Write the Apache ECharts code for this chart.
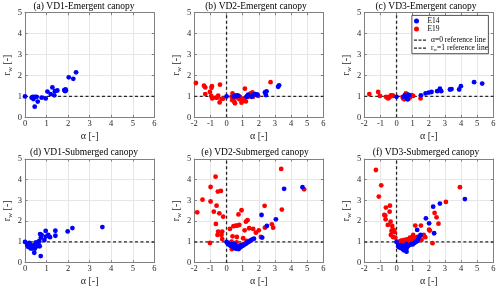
<!DOCTYPE html>
<html><head><meta charset="utf-8">
<script src="https://cdn.jsdelivr.net/npm/echarts@6/dist/echarts.min.js"></script>
<style>html,body{margin:0;padding:0;background:#fff}#c{width:500px;height:289px}</style>
</head><body><div id="c"></div>
<script>
// ---- data (alpha [-], r_w [-]) ----
const panelTitles = ['(a) VD1-Emergent canopy','(b) VD2-Emergent canopy','(c) VD3-Emergent canopy',
  '(d) VD1-Submerged canopy','(e) VD2-Submerged canopy','(f) VD3-Submerged canopy'];
const xTicksMin = [0,-2,-2,0,-2,-2];
const xTicksMax = [6,6,6,6,6,6];
const yTicksMin = 0, yTicksMax = 5;

const aE14 = [[0,1.0],[0.31,0.94],[0.36,0.98],[0.39,0.87],[0.46,0.98],[0.54,0.98],[0.45,0.51],[0.59,0.75],[0.77,0.94],[0.96,0.90],[1.04,1.23],[1.19,1.11],[1.27,1.43],[1.36,1.05],[1.39,1.25],[1.5,1.28],[1.82,1.3],[1.86,1.25],[1.88,1.33],[1.9,1.28],[2.03,1.91],[2.24,1.84],[2.37,2.15]];
const aE19 = [];

const bE14 = [[0,1.0],[0.45,1.0],[0.52,1.04],[0.58,1.01],[0.66,1.05],[0.74,1.02],[1.24,0.98],[1.28,1.02],[1.34,1.08],[1.55,0.98],[1.65,1.08],[1.78,1.11],[1.86,1.08],[1.92,1.08],[2.38,1.19],[2.48,1.24],[2.44,1.06],[3.2,1.46],[3.26,1.53]];
const bE19 = [[-1.90,1.64],[-1.40,1.51],[-1.32,1.43],[-1.32,1.11],[-0.91,1.49],[-0.93,1.41],[-1.03,1.21],[-0.95,1.02],[-0.89,0.90],[-0.66,0.94],[-0.58,0.94],[-0.52,1.03],[-0.41,1.56],[-0.43,0.71],[-0.31,0.87],[-0.21,0.89],
  [0.31,0.98],[0.37,1.14],[0.35,0.82],[0.41,0.90],[0.48,0.75],[0.52,0.67],[0.62,0.95],[0.72,1.02],[0.79,0.86],[0.83,0.98],[0.93,0.70],[0.99,0.79],[1.07,0.90],[1.14,1.37],[1.20,0.76],[1.34,0.98],[1.49,1.14],[1.61,1.19],[1.65,0.98],[1.71,1.08],[1.86,1.06],[1.96,1.02],[2.73,1.68]];

const cE14 = [[0,0.98],[0.45,0.98],[0.52,1.06],[0.62,0.95],[0.78,1.05],[0.68,0.86],[0.72,1.08],[1.51,1.05],[1.80,1.14],[2.0,1.18],[2.17,1.21],[2.52,1.25],[2.69,1.37],[2.77,1.25],[3.31,1.33],[3.41,1.35],[3.88,1.33],[3.99,1.49],[4.81,1.68],[5.31,1.61]];
const cE19 = [[-1.69,1.11],[-1.14,1.21],[-1.03,1.02],[-0.66,0.98],[-0.58,0.94],[-0.52,0.90],[-0.46,0.95],[-0.41,0.98],[-0.37,1.03],[-0.31,1.05],[-0.25,1.03],[-0.21,1.02],[0.37,0.98],[0.41,0.90],[0.48,0.86],[0.52,0.95],[0.58,1.14],[0.62,0.90],[0.68,1.02],[0.74,0.87],[0.83,0.95],[0.93,1.06],[1.03,1.02],[1.49,0.90]];

const dE14 = [[0,1.0],[0.1,0.85],[0.14,0.77],[0.19,0.85],[0.2,0.95],[0.23,0.9],[0.26,0.69],[0.31,0.8],[0.34,0.69],[0.39,0.84],[0.43,0.48],[0.46,0.68],[0.51,0.98],[0.54,0.88],[0.59,0.8],[0.65,0.85],[0.68,0.79],[0.73,0.32],[0.7,1.38],[0.77,1.34],[0.74,1.21],[0.66,1.05],[0.9,1.09],[0.96,1.53],[0.97,1.26],[1.08,1.34],[1.16,1.23],[1.41,1.54],[1.41,1.3],[1.98,1.51],[2.2,1.67],[3.59,1.72]];
const dE19 = [];

const eE14 = [[0,1.0],[0.05,0.95],[0.1,0.9],[0.15,0.88],[0.2,0.85],[0.25,0.82],[0.3,0.8],[0.35,0.78],[0.4,0.76],[0.45,0.74],[0.5,0.72],[0.55,0.7],[0.6,0.68],[0.65,0.67],[0.7,0.7],[0.75,0.66],[0.8,0.72],[0.85,0.75],[0.9,0.78],[0.95,0.8],[1.0,0.82],[1.05,0.85],[1.1,0.88],[1.15,0.9],[1.2,0.92],[1.25,0.95],[1.3,0.98],[1.4,1.02],[1.5,1.08],[1.6,1.12],[1.7,1.16],[0.45,0.85],[0.6,0.8],[0.75,0.78],[0.9,0.85],[0.5,0.9],[0.3,0.9],
  [2.21,1.21],[2.17,2.30],[2.50,1.77],[3.06,2.09],[3.57,3.56],[4.71,3.64]];
const eE19 = [[-1.82,2.43],[-1.49,3.04],[-1.03,0.95],[-0.99,3.65],[-0.99,2.95],[-0.79,2.46],[-0.68,4.15],[-0.66,1.87],[-0.62,2.75],[-0.54,3.43],[-0.35,3.46],[-0.45,2.38],[-0.52,1.50],[-0.56,1.34],[-0.31,1.34],[-0.27,1.50],[-0.21,2.22],[-0.27,1.14],
  [0.21,1.63],[0.37,1.27],[0.43,1.76],[0.58,1.79],[0.68,1.79],[0.79,1.82],[0.74,2.33],[0.93,2.53],[0.64,1.24],[1.03,1.18],[1.20,1.98],[1.30,2.05],[1.12,1.56],[1.40,1.66],[1.65,1.63],[1.82,1.45],[2.00,1.56],[2.13,1.24],[2.36,2.74],[2.38,1.69],[2.81,1.85],[2.89,1.69],[3.39,4.52],[3.43,2.56],[4.81,3.54],
  [0.21,0.95],[0.33,0.65],[0.62,0.98],[0.83,0.82],[0.52,0.86],[1.03,0.88],[1.24,1.05],[1.45,1.05],[0.31,1.02]];

const fE14 = [[0,1.0],[0.1,0.8],[0.15,0.75],[0.2,0.85],[0.25,0.72],[0.3,0.7],[0.35,0.78],[0.4,0.65],[0.45,0.6],[0.5,0.7],[0.55,0.62],[0.6,0.66],[0.65,0.75],[0.7,0.8],[0.8,0.85],[0.9,0.9],[1.0,0.88],[1.1,0.95],[1.2,1.0],[1.3,1.05],[0.3,0.85],[0.5,0.8],[0.6,0.9],[0.62,0.53],
  [1.34,1.14],[1.28,1.58],[1.49,1.34],[1.4,1.25],[1.82,2.14],[2.02,1.90],[2.27,2.70],[2.33,1.42],[2.69,2.85],[4.24,3.07]];
const fE19 = [[-1.28,4.47],[-0.95,3.73],[-1.10,3.19],[-0.66,2.66],[-0.41,2.75],[-0.76,2.30],[-0.70,2.27],[-0.68,2.09],[-0.43,2.46],[-0.54,1.82],[-0.37,1.98],[-0.27,1.77],[-0.25,1.58],[-0.17,1.58],[-0.31,1.53],[-0.12,1.47],[-0.35,1.34],[-0.21,1.23],[-0.08,1.21],
  [0.1,1.0],[0.2,0.95],[0.25,1.05],[0.3,1.0],[0.35,1.08],[0.4,0.98],[0.45,1.05],[0.5,1.1],[0.55,0.95],[0.6,1.0],[0.65,1.12],[0.7,1.05],[0.75,0.98],[0.8,1.15],[0.85,1.08],[0.83,1.21],[0.9,1.2],[0.95,1.1],[1.0,1.25],[1.03,1.34],[1.05,1.15],[1.1,1.05],[1.2,1.2],[1.3,1.25],[1.4,1.15],[1.5,1.3],[1.55,1.1],
  [1.16,1.79],[1.51,1.79],[1.69,1.34],[1.78,1.23],[2.02,1.59],[2.06,1.55],[2.36,2.40],[2.48,2.19],[2.60,1.88],[3.06,2.93],[2.23,0.94],[3.93,3.64]];

const E14 = [aE14,bE14,cE14,dE14,eE14,fE14];
const E19 = [aE19,bE19,cE19,dE19,eE19,fE19];
const showAlphaLine = [false,true,true,false,true,true];

// ---- layout ----
const FONT = "'Liberation Serif','Times New Roman',serif";
const gridPos = [
  {left:25, top:12.7, width:129.3, height:104.6},
  {left:194.3, top:12.7, width:129, height:104.6},
  {left:364.3, top:12.7, width:129, height:104.6},
  {left:25, top:159, width:129.3, height:103.7},
  {left:194.3, top:159, width:129, height:103.7},
  {left:364.3, top:159, width:129, height:103.7}
];
const titleCx = [84,256,426,84,255,426];
const titleTop = [1,1,1,147.5,147.5,147.5];

const AX = '#808080';
const TXT = '#262626';
const grid=[], xAxis=[], yAxis=[], series=[], title=[];
const RW_NAME = 'r_w=1 reference line';
const A_NAME = 'α=0 reference line';

for (let i=0;i<6;i++){
  grid.push(Object.assign({containLabel:false}, gridPos[i]));
  title.push({text:panelTitles[i], left:titleCx[i], top:titleTop[i], textAlign:'center', padding:0,
    textStyle:{fontFamily:FONT, fontSize:9.5, fontWeight:'normal', color:'#000'}});
  xAxis.push({type:'value', gridIndex:i, min:xTicksMin[i], max:xTicksMax[i], interval:1,
    name:'α [-]', nameLocation:'middle', nameGap:14,
    nameTextStyle:{fontFamily:FONT, fontSize:10, color:TXT},
    axisLine:{show:true, onZero:false, lineStyle:{color:AX, width:1}},
    axisTick:{show:true, inside:true, length:2.5, lineStyle:{color:AX}},
    axisLabel:{fontFamily:FONT, fontSize:8.5, color:TXT, margin:2},
    splitLine:{show:true, lineStyle:{color:'#e6e6e6', width:1}}});
  xAxis.push({type:'value', gridIndex:i, position:'top', min:xTicksMin[i], max:xTicksMax[i], interval:1,
    axisLine:{show:true, onZero:false, lineStyle:{color:AX, width:1}},
    axisTick:{show:true, inside:true, length:2.5, lineStyle:{color:AX}},
    axisLabel:{show:false}, splitLine:{show:false}});
  yAxis.push({type:'value', gridIndex:i, min:yTicksMin, max:yTicksMax, interval:1,
    name:'{i|r}{s|w}{i| [-]}', nameLocation:'middle', nameGap:11,
    nameTextStyle:{fontFamily:FONT, color:TXT, rich:{
      i:{fontFamily:FONT, fontSize:10, color:TXT, lineHeight:13},
      s:{fontFamily:FONT, fontSize:7, color:TXT, lineHeight:7, verticalAlign:'bottom'}}},
    axisLine:{show:true, onZero:false, lineStyle:{color:AX, width:1}},
    axisTick:{show:true, inside:true, length:2.5, lineStyle:{color:AX}},
    axisLabel:{fontFamily:FONT, fontSize:8.5, color:TXT, margin:3},
    splitLine:{show:true, lineStyle:{color:'#e6e6e6', width:1}}});
  yAxis.push({type:'value', gridIndex:i, position:'right', min:yTicksMin, max:yTicksMax, interval:1,
    axisLine:{show:true, onZero:false, lineStyle:{color:AX, width:1}},
    axisTick:{show:true, inside:true, length:2.5, lineStyle:{color:AX}},
    axisLabel:{show:false}, splitLine:{show:false}});

  const xi = 2*i, yi = 2*i;
  series.push({type:'line', name:RW_NAME, xAxisIndex:xi, yAxisIndex:yi, symbol:'none', silent:true, z:2,
    data:[[xTicksMin[i],1],[xTicksMax[i],1]], lineStyle:{color:'#262626', width:1.3, type:[3,2.5]}, itemStyle:{color:'#262626'}});
  if (showAlphaLine[i]) {
    series.push({type:'line', name:A_NAME, xAxisIndex:xi, yAxisIndex:yi, symbol:'none', silent:true, z:2,
      data:[[0,yTicksMin],[0,yTicksMax]], lineStyle:{color:'#262626', width:1.3, type:[3,2.5]}, itemStyle:{color:'#262626'}});
  }
  if (E19[i].length) series.push({type:'scatter', name:'E19', xAxisIndex:xi, yAxisIndex:yi, z:3,
    symbol:'circle', symbolSize:4.8, data:E19[i], itemStyle:{color:'#ff0000', opacity:1}});
  series.push({type:'scatter', name:'E14', xAxisIndex:xi, yAxisIndex:yi, z:4,
    symbol:'circle', symbolSize:4.8, data:E14[i], itemStyle:{color:'#0000ff', opacity:1}});
}

const legendText = {fontFamily:FONT, fontSize:7.5, color:'#000', lineHeight:7.6,
  rich:{i:{fontFamily:FONT, fontSize:7.5, color:'#000', lineHeight:7.6},
        s:{fontFamily:FONT, fontSize:5, color:'#000', lineHeight:5, verticalAlign:'bottom'}}};
const DASH_ICON = 'path://M0 0H3V1.2H0Z M4.5 0H7.5V1.2H4.5Z M9 0H12V1.2H9Z';

const chart = echarts.init(document.getElementById('c'), null, {renderer:'canvas'});
chart.setOption({
  animation:false,
  backgroundColor:'#fff',
  title:title, grid:grid, xAxis:xAxis, yAxis:yAxis, series:series,
  graphic:[{type:'rect', left:411.5, top:15, z:100,
    shape:{width:76.5, height:38.3}, style:{fill:'#fff', stroke:'#262626', lineWidth:0.8}}],
  legend:[{
    data:[{name:'E14', icon:'circle'},{name:'E19', icon:'circle'}], orient:'vertical', left:414, top:16.9, z:200,
    padding:0, itemWidth:12, itemHeight:5, itemGap:0, selectedMode:false,
    textStyle:legendText
  },{
    data:[{name:A_NAME, icon:DASH_ICON},{name:RW_NAME, icon:DASH_ICON}], orient:'vertical', left:414, top:36.2, z:200,
    padding:0, itemWidth:12, itemHeight:5, itemGap:0, selectedMode:false, symbolKeepAspect:true,
    textStyle:legendText,
    formatter:function(n){ return n===RW_NAME ? '{i|r}{s|w}{i|=1 reference line}' : n; }
  }],
  series:series
});
</script></body></html>
